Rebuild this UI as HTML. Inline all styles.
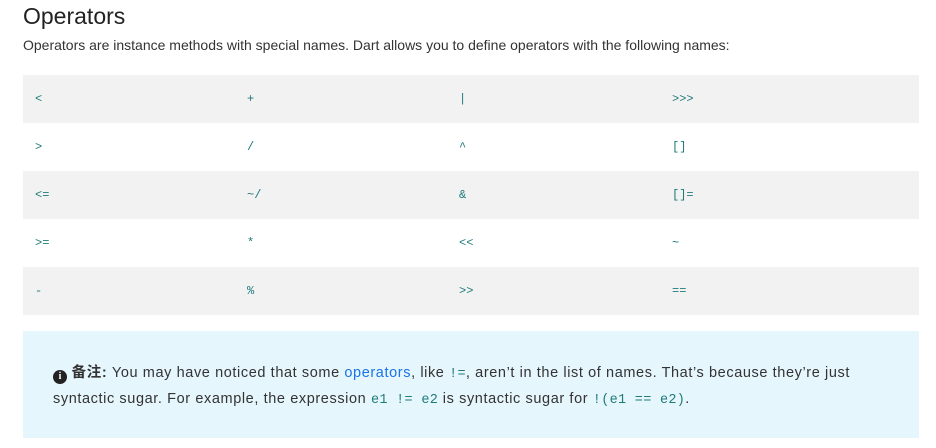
<!DOCTYPE html>
<html><head><meta charset="utf-8"><style>
body{margin:0;width:936px;height:448px;background:#fff;font-family:"Liberation Sans","Noto Sans CJK SC",sans-serif;color:#222;position:relative;overflow:hidden}
h2{position:absolute;left:23px;top:3px;margin:0;font-weight:400;font-size:23px;color:#222}
p.i{position:absolute;left:23px;top:37px;margin:0;font-size:14px;color:#333}
table{position:absolute;left:23px;top:75px;width:896px;border-collapse:collapse;table-layout:fixed}
td{height:48px;padding:0 0 0 12px;font-family:"Liberation Mono",monospace;font-size:12px;color:#1f7a7a}
tr:nth-child(odd){background:#f2f2f2}
.note{position:absolute;left:23px;top:331px;width:896px;height:107px;background:#e6f6fd}
.note div{position:absolute;left:30px;top:30px;width:830px;font-size:14.5px;line-height:24px;color:#333;letter-spacing:0.6px}
code{font-family:"Liberation Mono",monospace;color:#1f7a7a;font-size:13.5px;letter-spacing:0.3px}
a{color:#1a73e8;text-decoration:none}
.ic{display:inline-block;width:14px;height:14px;border-radius:50%;background:#222;color:#fff;font-size:10px;font-weight:bold;text-align:center;line-height:14px;vertical-align:-2px;font-family:"Liberation Serif",serif;letter-spacing:0}
</style></head><body>
<h2>Operators</h2>
<p class="i">Operators are instance methods with special names. Dart allows you to define operators with the following names:</p>
<table>
<colgroup><col style="width:212px"><col style="width:212px"><col style="width:213px"><col style="width:259px"></colgroup>
<tr><td>&lt;</td><td>+</td><td>|</td><td>&gt;&gt;&gt;</td></tr>
<tr><td>&gt;</td><td>/</td><td>^</td><td>[]</td></tr>
<tr><td>&lt;=</td><td>~/</td><td>&amp;</td><td>[]=</td></tr>
<tr><td>&gt;=</td><td>*</td><td>&lt;&lt;</td><td>~</td></tr>
<tr><td>-</td><td>%</td><td>&gt;&gt;</td><td>==</td></tr>
</table>
<div class="note"><div><span class="ic">i</span> <b>备注:</b> You may have noticed that some <a>operators</a>, like <code>!=</code>, aren’t in the list of names. That’s because they’re just syntactic sugar. For example, the expression <code>e1 != e2</code> is syntactic sugar for <code>!(e1 == e2)</code>.</div></div>
</body></html>
